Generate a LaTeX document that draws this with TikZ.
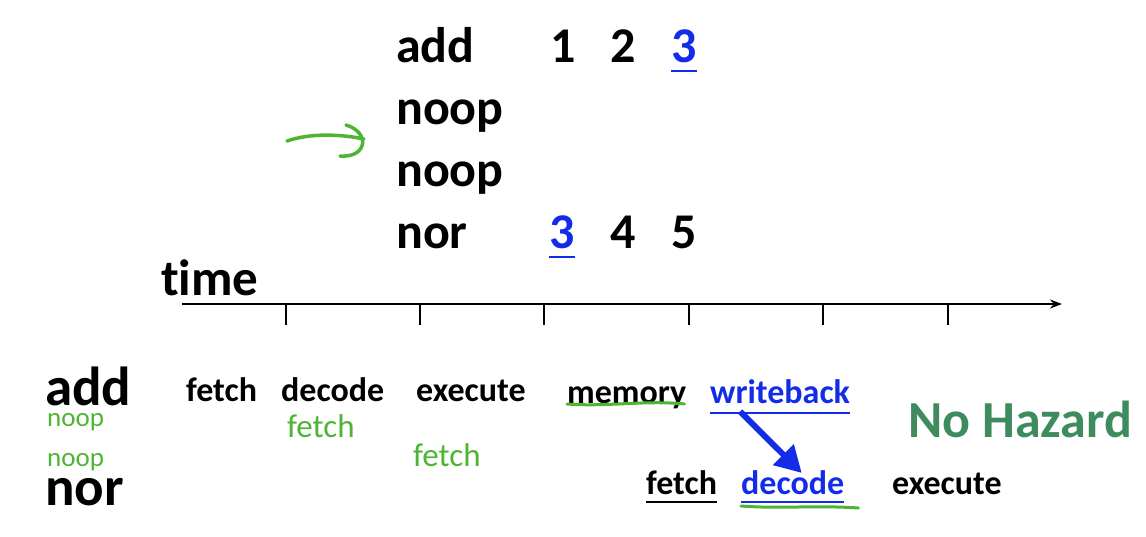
\documentclass[tikz,border=0pt]{standalone}
\usepackage{fontspec}
\setmainfont{Carlito}[Ligatures=NoCommon]
\usetikzlibrary{arrows.meta}
\definecolor{pipecolor0000}{RGB}{0,0,0}
\definecolor{pipecolor0001}{RGB}{18,44,232}
\definecolor{pipecolor0002}{RGB}{78,180,52}
\definecolor{pipecolor0003}{RGB}{62,140,94}

\begin{document}
\begin{tikzpicture}[yscale=-1
,pstyle1/.style={anchor=base west,inner sep=0pt,font=\fontsize{50pt}{50pt}\selectfont\bfseries}
,pstyle2/.style={anchor=base west,inner sep=0pt,font=\fontsize{34pt}{34pt}\selectfont\bfseries}
,pstyle3/.style={anchor=base west,inner sep=0pt,color=pipecolor0002,font=\fontsize{33pt}{33pt}\selectfont}
,pstyle4/.style={color=pipecolor0002,line width=3.5pt,line cap=round}
,pstyle5/.style={color=pipecolor0001,line width=2.5pt}
]
\useasboundingbox (0pt,0pt) rectangle (1146pt,536pt);
% instructions
\node (i1) at (396pt,62pt)[pstyle1]{add};
\node (i2) at (396pt,124pt)[pstyle1]{noop};
\node (i3) at (396pt,186pt)[pstyle1]{noop};
\node (i4) at (396pt,248pt)[pstyle1]{nor};
\node (r11) at (563pt,62pt)[pstyle1,anchor=base]{1};
\node (r12) at (623pt,62pt)[pstyle1,anchor=base]{2};
\node (r13) at (684pt,62pt)[pstyle1,anchor=base,color=pipecolor0001]{3};
\node (r41) at (562pt,248pt)[pstyle1,anchor=base,color=pipecolor0001]{3};
\node (r42) at (623pt,248pt)[pstyle1,anchor=base]{4};
\node (r43) at (684pt,248pt)[pstyle1,anchor=base]{5};
\draw[pstyle5] ([yshift=9pt]r13.base west) -- ([yshift=9pt]r13.base east);
\draw[pstyle5] ([yshift=9pt]r41.base west) -- ([yshift=9pt]r41.base east);
\draw[pstyle4] (287pt,141pt) .. controls (310pt,133pt) and (340pt,134pt) .. (364pt,139pt);
\draw[pstyle4] (346pt,125pt) .. controls (370pt,132pt) and (368pt,158pt) .. (340pt,156pt);
% time line
\node (time) at (161pt,295pt)[pstyle1,font=\fontsize{51pt}{51pt}\selectfont\bfseries]{time};
\draw[line width=2.5pt,-{Stealth[length=12pt,width=9pt]}] (182pt,304pt) -- (1062pt,304pt);
\foreach \x in {286,420,544,689,823,948}
  \draw[line width=2pt] (\x pt,304pt) -- (\x pt,325pt);
% pipeline
\node (a) at (45pt,405pt)[pstyle1,font=\fontsize{55pt}{55pt}\selectfont\bfseries]{add};
\node (n) at (45pt,505pt)[pstyle1,font=\fontsize{55pt}{55pt}\selectfont\bfseries]{nor};
\node (n1) at (47pt,426pt)[pstyle3,font=\fontsize{27pt}{27pt}\selectfont]{noop};
\node (n2) at (47pt,466pt)[pstyle3,font=\fontsize{27pt}{27pt}\selectfont]{noop};
\node (a1) at (186pt,401pt)[pstyle2]{fetch};
\node (a2) at (281pt,401pt)[pstyle2]{decode};
\node (a3) at (416pt,401pt)[pstyle2]{execute};
\node (a4) at (567pt,403pt)[pstyle2]{memory};
\node (a5) at (710pt,403pt)[pstyle2,color=pipecolor0001]{writeback};
\node (f1) at (287pt,437pt)[pstyle3]{fetch};
\node (f2) at (413pt,466pt)[pstyle3]{fetch};
\node (b1) at (646pt,494pt)[pstyle2]{fetch};
\node (b2) at (741pt,494pt)[pstyle2,color=pipecolor0001]{decode};
\node (b3) at (892pt,494pt)[pstyle2]{execute};
\node (hz) at (908pt,437pt)[pstyle1,font=\fontsize{52pt}{52pt}\selectfont\bfseries,color=pipecolor0003]{No Hazard};
\draw[pstyle5] ([yshift=10pt]a5.base west) -- ([yshift=10pt]a5.base east);
\draw[pstyle5,color=pipecolor0000] ([yshift=8pt]b1.base west) -- ([yshift=8pt]b1.base east);
\draw[pstyle5] ([yshift=8pt]b2.base west) -- ([yshift=8pt]b2.base east);
\draw[pstyle4,line width=3pt] ([yshift=1pt]a4.base west) .. controls ([xshift=40pt,yshift=4pt]a4.base west) and ([xshift=-40pt,yshift=-3pt]a4.base east) .. ([xshift=-2pt,yshift=1pt]a4.base east);
\draw[pstyle4,line width=3pt] ([yshift=12pt]b2.base west) .. controls ([xshift=40pt,yshift=15pt]b2.base west) and ([xshift=-30pt,yshift=11pt]b2.base east) .. ([xshift=14pt,yshift=14pt]b2.base east);
\draw[color=pipecolor0001,line width=6pt,-{Triangle[length=26pt,width=28pt]}] ([xshift=-40pt,yshift=8pt]a5.south) -- ([xshift=9pt,yshift=3pt]b2.north);
\end{tikzpicture}
\end{document}
